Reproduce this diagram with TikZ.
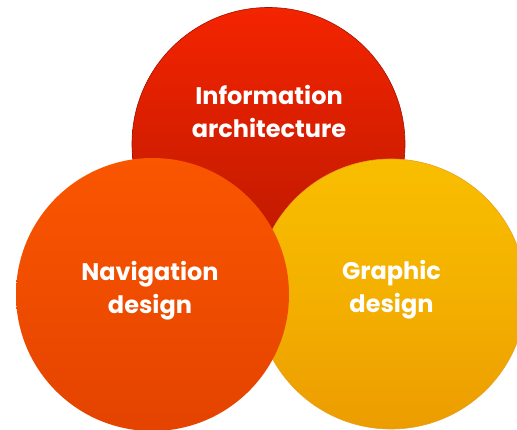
\documentclass[tikz,border=0pt]{standalone}
\usepackage{fontspec}
\setmainfont{Poppins}
\usetikzlibrary{shadings}
\definecolor{redtop}{HTML}{F42400}
\definecolor{redbot}{HTML}{B81800}
\definecolor{redrim}{HTML}{A01200}
\definecolor{orgtop}{HTML}{FA5600}
\definecolor{orgbot}{HTML}{E44300}
\definecolor{yeltop}{HTML}{F9BE00}
\definecolor{yelbot}{HTML}{EC9C00}
\definecolor{yelrim}{HTML}{E8A020}
\tikzset{
  bubble/.style={circle, inner sep=0pt, outer sep=0pt, minimum size=273pt},
  lbl/.style={text=white, align=center, font=\fontsize{24}{33}\selectfont\bfseries}
}
\begin{document}
\begin{tikzpicture}[x=1pt,y=-1pt]
\useasboundingbox (0,0) rectangle (517,430);
\fill[white] (0,0) rectangle (517,430);
\begin{scope}
\clip (0,0) rectangle (517,430);
\node[bubble, top color=redtop, bottom color=redbot, draw=redrim, line width=0.6pt] (ia) at (268.5,144) {};
\node[bubble, minimum size=270pt, top color=yeltop, bottom color=yelbot, middle color=yeltop!60!yelbot, draw=yelrim, line width=0.6pt] (gd) at (391,294) {};
\node[bubble, top color=orgtop, bottom color=orgbot] (nd) at (152.5,294.5) {};
\end{scope}
\node[lbl] (tia) at (269,111) {Information\\architecture};
\node[lbl] (tnd) at (150,291) {Navigation\\design};
\node[lbl] (tgd) at (391.5,290) {Graphic\\design};
\end{tikzpicture}
\end{document}
